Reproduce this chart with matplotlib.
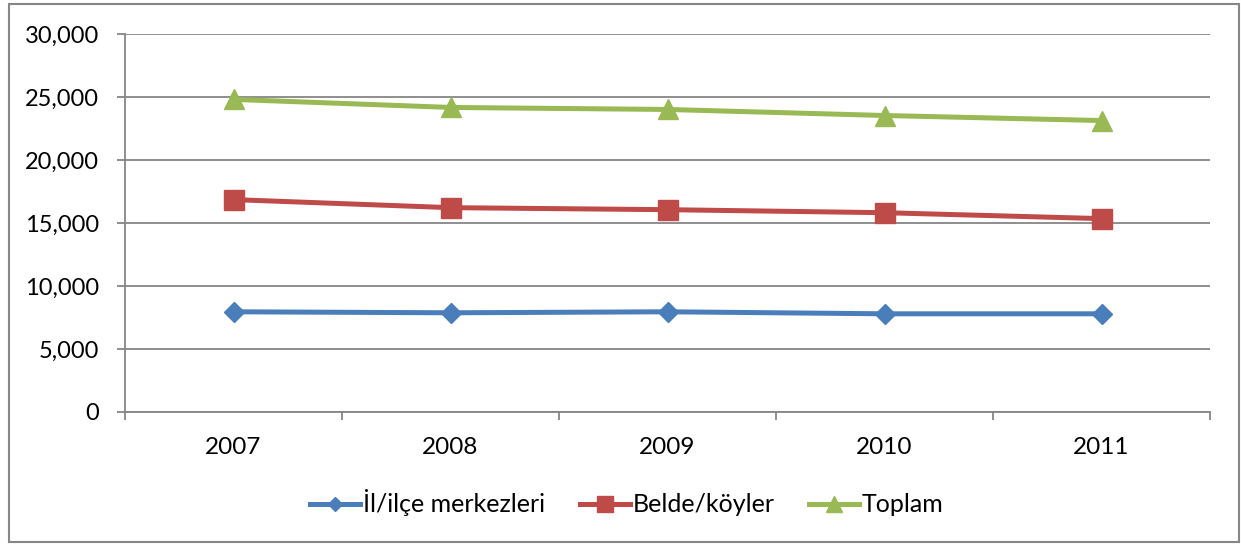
import matplotlib
matplotlib.use("Agg")
import matplotlib.pyplot as plt
from matplotlib.patches import Rectangle
from matplotlib.ticker import FuncFormatter, FixedLocator

years = ["2007", "2008", "2009", "2010", "2011"]
il_ilce = [7960, 7880, 7960, 7800, 7800]
belde_koy = [16870, 16230, 16070, 15830, 15360]
toplam = [24830, 24190, 24030, 23550, 23150]
series_names = ["İl/ilçe merkezleri", "Belde/köyler", "Toplam"]

plt.rcParams['font.family'] = ['Lato', 'DejaVu Sans']

fig = plt.figure(figsize=(12.41, 5.45), dpi=100)
ax = fig.add_axes([125/1241, 1-412/545, (1210-125)/1241, (412-34.3)/545])

x = list(range(len(years)))
grid_c = "#868686"
lw = 3.6
ax.plot(x, il_ilce, color="#4A7EBB", lw=lw, marker="D", ms=10, mec="#4A7EBB", label=series_names[0], zorder=3)
ax.plot(x, belde_koy, color="#BE4B48", lw=lw, marker="s", ms=14.5, mec="#BE4B48", label=series_names[1], zorder=3)
ax.plot(x, toplam, color="#98B954", lw=lw, marker="^", ms=15, mec="#98B954", label=series_names[2], zorder=3)

ax.set_xlim(-0.5, len(years) - 0.5)
ax.set_ylim(0, 30000)
ax.set_yticks(range(0, 30001, 5000))
ax.yaxis.set_major_formatter(FuncFormatter(lambda v, p: f"{int(v):,}"))
ax.grid(axis="y", color=grid_c, lw=1.3)
ax.set_axisbelow(True)

ax.xaxis.set_major_locator(FixedLocator([i - 0.5 for i in range(len(years) + 1)]))
ax.xaxis.set_minor_locator(FixedLocator(x))
ax.set_xticklabels([], minor=False)
ax.set_xticklabels(years, minor=True)
ax.tick_params(axis="x", which="major", length=6, width=1.3, color=grid_c, direction="out")
ax.tick_params(axis="x", which="minor", length=0, pad=18, labelsize=17.5)
ax.tick_params(axis="y", length=6, width=1.3, color=grid_c, direction="out", labelsize=17, pad=12.5)

for s in ["top", "right"]:
    ax.spines[s].set_visible(False)
for s in ["left", "bottom"]:
    ax.spines[s].set_color(grid_c)
    ax.spines[s].set_linewidth(1.3)

leg = fig.legend(loc="center", bbox_to_anchor=(627/1241, 1-503/545), ncol=3, frameon=False,
                 fontsize=18, handlelength=2.0, handletextpad=0.1, columnspacing=1.4, markerscale=0.75)

fig.patches.append(Rectangle((9/1241, 1-542/545), (1239-9)/1241, (542-4)/545, transform=fig.transFigure,
                             fill=False, edgecolor=grid_c, lw=1.5))

fig.savefig("out.png", dpi=100)
